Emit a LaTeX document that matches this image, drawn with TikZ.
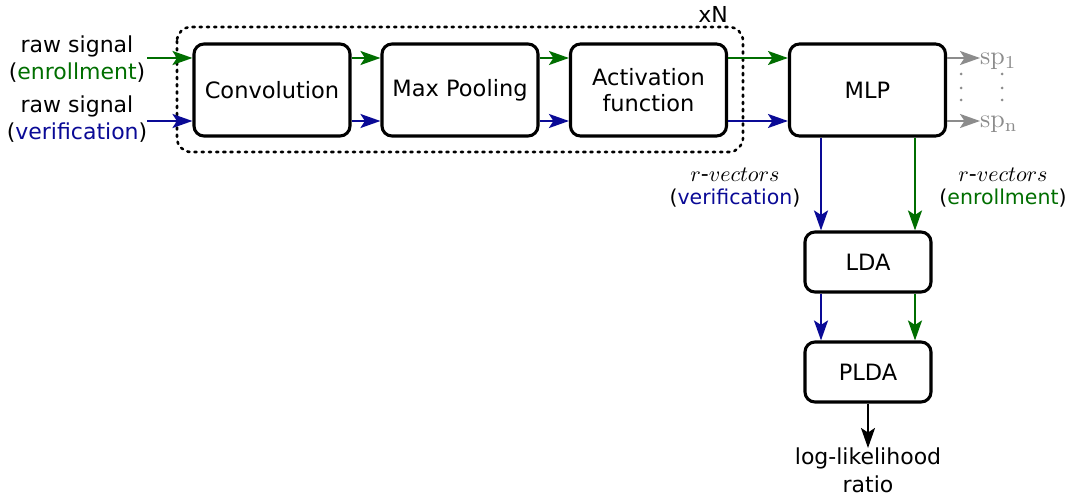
\documentclass[tikz,border=0pt]{standalone}
\usepackage{graphicx}
\usepackage{fontspec}
\setmainfont{DejaVu Sans}
\newfontfamily\lmfont{Latin Modern Roman}
\usetikzlibrary{arrows.meta,calc}
\definecolor{enrl}{RGB}{0,110,0}
\definecolor{verf}{RGB}{10,10,150}
\definecolor{spk}{RGB}{140,140,140}
% math set at 10pt and scaled up, so the Computer Modern glyphs keep their size
\newcommand\bigmath[2]{\scalebox{#1}{\fontsize{10}{12}\selectfont #2}}
\newcommand\rvec{\bigmath{2.2}{$r$-$vectors$}}
\newcommand\spk[1]{\bigmath{2.6}{\lmfont sp\raisebox{-1.5pt}{\fontsize{7}{8}\selectfont #1}}}
\tikzset{
  blk/.style={draw=black, line width=3.1pt, rounded corners=10pt, fill=white,
    font=\fontsize{22.5}{26}\selectfont, align=center, inner sep=0pt},
  wide/.style={blk, minimum width=156pt, minimum height=92pt},
  narrow/.style={blk, minimum width=126pt, minimum height=60pt},
  flow/.style={line width=2.2pt, -{Stealth[length=20pt, width=14pt, inset=4.5pt]}},
  gflow/.style={flow, draw=enrl},
  bflow/.style={flow, draw=verf},
  sflow/.style={flow, draw=spk},
  lbl/.style={font=\fontsize{22}{27}\selectfont, align=center, inner sep=0pt},
  emb/.style={font=\fontsize{20.5}{23}\selectfont, align=center, inner sep=0pt},
  spl/.style={anchor=base west, inner sep=0pt, text=spk},
}
\begin{document}
\begin{tikzpicture}[x=1pt, y=-1pt]
\useasboundingbox (0,0) rectangle (1069,500);

% repeated front-end block
\draw[line width=2.6pt, dash pattern=on 2.2pt off 5pt, line cap=round, rounded corners=14pt]
  (177,27) rectangle (743,152);
\node[lbl] (rep) at (713,14) {xN};

% processing blocks
\node[wide] (conv) at (272,90) {Convolution};
\node[wide] (pool) at (460,90) {Max Pooling};
\node[wide] (act)  at (648.5,90) {Activation\\function};
\node[wide] (mlp)  at (867.5,90) {MLP};
\node[narrow] (lda)  at (868,262) {LDA};
\node[narrow] (plda) at (868,372) {PLDA};

% row and column helpers
\coordinate (gy) at (0,58);
\coordinate (by) at (0,121);
\coordinate (bx) at (821,0);
\coordinate (gx) at (915,0);

% inputs
\node[lbl] (inE) at (77,59) {raw signal\\(\textcolor{enrl}{enrollment})};
\node[lbl] (inV) at (77,119) {raw signal\\(\textcolor{verf}{verification})};
\coordinate (inEg) at (147,58);
\coordinate (inVb) at (147,121);

\draw[gflow] (inEg) -- (conv.west |- gy);
\draw[bflow] (inVb) -- (conv.west |- by);
\draw[gflow] (conv.east |- gy) -- (pool.west |- gy);
\draw[bflow] (conv.east |- by) -- (pool.west |- by);
\draw[gflow] (pool.east |- gy) -- (act.west |- gy);
\draw[bflow] (pool.east |- by) -- (act.west |- by);
\draw[gflow] (act.east |- gy) -- (mlp.west |- gy);
\draw[bflow] (act.east |- by) -- (mlp.west |- by);

% speaker outputs
\node[spl] (sp1) at (980,65) {\spk{1}};
\node[spl] (spn) at (980,128) {\spk{n}};
\draw[sflow] (mlp.east |- gy) -- (sp1.west |- gy);
\draw[sflow] (mlp.east |- by) -- (spn.west |- by);
\foreach \yy in {74,88,100} {
  \fill[spk] (961,\yy) circle (1.5pt);
  \fill[spk] (1002,\yy) circle (1.5pt);
}

% embeddings
\node[emb] (rv) at (735,188) {\rvec\\(\textcolor{verf}{verification})};
\node[emb] (re) at (1003,188) {\rvec\\(\textcolor{enrl}{enrollment})};

\draw[bflow] (mlp.south -| bx) -- (lda.north -| bx);
\draw[gflow] (mlp.south -| gx) -- (lda.north -| gx);
\draw[bflow] (lda.south -| bx) -- (plda.north -| bx);
\draw[gflow] (lda.south -| gx) -- (plda.north -| gx);

% score
\node[lbl, anchor=north, font=\fontsize{22}{28}\selectfont] (llr) at (868,448) {log-likelihood\\ratio};
\draw[flow, draw=black] (plda.south) -- (llr.north);
\end{tikzpicture}
\end{document}
